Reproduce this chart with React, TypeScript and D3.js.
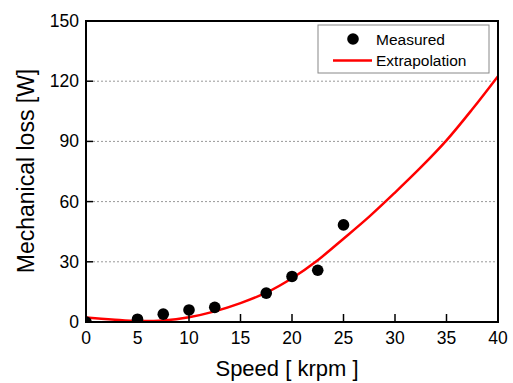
import React from "react";
import * as d3 from "d3";

const measuredSpeed = [0, 5, 7.5, 10, 12.5, 17.5, 20, 22.5, 25];
const measuredLoss = [0, 1.4, 3.9, 6, 7.3, 14.4, 22.7, 25.8, 48.4];

const fitSpeed = [0, 2.5, 5, 7.5, 10, 12.5, 15, 17.5, 20, 22.5, 25, 27.5, 30, 32.5, 35, 37.5, 40];
const fitLoss = [2.2, 1.3, 0.5, 0.8, 2.4, 5.3, 9.4, 14.6, 21.8, 30.8, 41.5, 52.5, 64.5, 77, 90.5, 106, 122.5];

const xTicks = [0, 5, 10, 15, 20, 25, 30, 35, 40];
const yTicks = [0, 30, 60, 90, 120, 150];
const gridTicks = [30, 60, 90, 120];

const FONT = "Arial, 'Liberation Sans', sans-serif";

export default function App() {
  const W = 513, H = 383;
  const left = 86, right = 498, top = 21, bottom = 322;
  const x = d3.scaleLinear().domain([0, 40]).range([left, right]);
  const y = d3.scaleLinear().domain([0, 150]).range([bottom, top]);
  const line = d3
    .line<number>()
    .x((_, i) => x(fitSpeed[i]))
    .y((d) => y(d))
    .curve(d3.curveCatmullRom);
  const fitPath = line(fitLoss) || "";

  return (
    <svg
      width={W}
      height={H}
      style={{ position: "absolute", left: 0, top: 0, background: "#fff" }}
      fontFamily={FONT}
    >
      <defs>
        <clipPath id="plotClip">
          <rect x={left} y={top} width={right - left} height={bottom - top} />
        </clipPath>
      </defs>
      <rect x={0} y={0} width={W} height={H} fill="#fff" />
      {gridTicks.map((t) => (
        <line
          key={"g" + t}
          x1={left + 7}
          x2={right}
          y1={y(t)}
          y2={y(t)}
          stroke="#999"
          strokeWidth={1}
          strokeDasharray="2,2"
        />
      ))}
      <g clipPath="url(#plotClip)">
        <path d={fitPath} fill="none" stroke="#ff0000" strokeWidth={2.5} />
        {measuredSpeed.map((s, i) => (
          <circle key={"m" + i} cx={x(s)} cy={y(measuredLoss[i])} r={5.8} fill="#000" />
        ))}
      </g>
      {/* frame */}
      <rect
        x={left}
        y={top}
        width={right - left}
        height={bottom - top}
        fill="none"
        stroke="#000"
        strokeWidth={2}
      />
      {/* ticks */}
      {xTicks.slice(1, -1).map((t) => (
        <line key={"xt" + t} x1={x(t)} x2={x(t)} y1={bottom} y2={bottom - 8} stroke="#000" strokeWidth={1.5} />
      ))}
      {yTicks.slice(1, -1).map((t) => (
        <line key={"yt" + t} x1={left} x2={left + 7} y1={y(t)} y2={y(t)} stroke="#000" strokeWidth={1.5} />
      ))}
      {xTicks.map((t) => (
        <text key={"xl" + t} x={x(t)} y={344} textAnchor="middle" fontSize={17.5} fill="#000">
          {t}
        </text>
      ))}
      {yTicks.map((t) => (
        <text key={"yl" + t} x={79} y={y(t) + 6} textAnchor="end" fontSize={17.5} fill="#000">
          {t}
        </text>
      ))}
      <text x={287} y={376} textAnchor="middle" fontSize={22} fill="#000">
        Speed [ krpm ]
      </text>
      <text
        transform={`translate(34,171) rotate(-90)`}
        textAnchor="middle"
        fontSize={23}
        fill="#000"
      >
        Mechanical loss [W]
      </text>
      {/* legend */}
      <rect x={318} y={25} width={171} height={48} fill="#fff" stroke="#888" strokeWidth={1} />
      <circle cx={353} cy={39} r={5.8} fill="#000" />
      <line x1={333} x2={372} y1={60.5} y2={60.5} stroke="#ff0000" strokeWidth={2.5} />
      <text x={376} y={45} fontSize={15.5} fill="#000">
        Measured
      </text>
      <text x={376} y={66} fontSize={15.5} fill="#000">
        Extrapolation
      </text>
    </svg>
  );
}
